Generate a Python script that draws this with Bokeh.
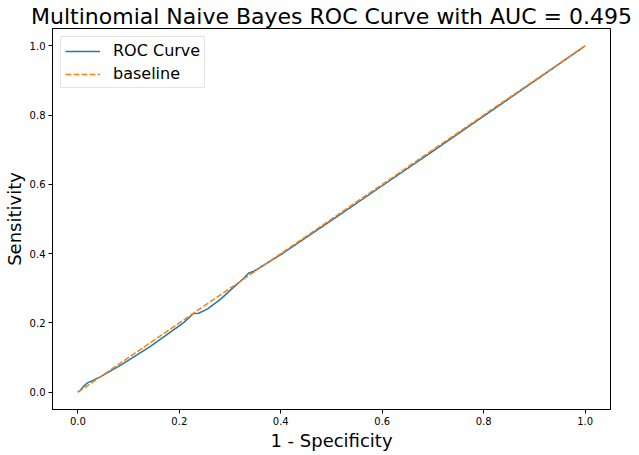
from bokeh.plotting import figure
from bokeh.models import FixedTicker, Range1d
from bokeh.embed import file_html
from bokeh.resources import INLINE

# ---- data ----
fpr = [0.0, 0.005, 0.012, 0.018, 0.030, 0.045, 0.087, 0.143, 0.208, 0.228, 0.238,
       0.255, 0.281, 0.304, 0.325, 0.337, 0.347, 0.400, 0.500, 0.600, 0.700, 0.800,
       0.900, 1.0]
tpr = [0.0, 0.006, 0.018, 0.026, 0.034, 0.045, 0.080, 0.132, 0.200, 0.227, 0.228,
       0.240, 0.268, 0.299, 0.326, 0.344, 0.349, 0.397, 0.496, 0.596, 0.696, 0.797,
       0.898, 1.0]
baseline_x = [0.0, 1.0]
baseline_y = [0.0, 1.0]
tick_values = [0.0, 0.2, 0.4, 0.6, 0.8, 1.0]
tick_labels = ["0.0", "0.2", "0.4", "0.6", "0.8", "1.0"]
title_text = "Multinomial Naive Bayes ROC Curve with AUC = 0.495"
x_label = "1 - Specificity"
y_label = "Sensitivity"

FONT = "DejaVu Sans"

p = figure(width=639, height=455, output_backend="svg", toolbar_location=None,
           title=title_text,
           x_range=Range1d(-0.05, 1.05), y_range=Range1d(-0.05, 1.05),
           min_border_left=52, min_border_right=29, min_border_top=28,
           min_border_bottom=46)
p.background_fill_color = "white"
p.border_fill_color = "white"
p.outline_line_color = "black"
p.outline_line_width = 1
p.outline_line_alpha = 1
p.grid.visible = False

p.title.text_font = FONT
p.title.text_font_size = "22px"
p.title.text_font_style = "normal"
p.title.text_color = "black"
p.title.align = "center"
p.title.standoff = 0
p.title.offset = 0

for ax in (p.xaxis[0], p.yaxis[0]):
    ax.ticker = FixedTicker(ticks=tick_values)
    ax.major_label_overrides = {v: l for v, l in zip(tick_values, tick_labels)}
    ax.major_tick_out = 4
    ax.major_tick_in = 0
    ax.minor_tick_out = 0
    ax.minor_tick_in = 0
    ax.major_label_standoff = 3
    ax.major_label_text_font = FONT
    ax.major_label_text_font_size = "10px"
    ax.major_label_text_color = "black"
    ax.axis_line_color = "black"
    ax.major_tick_line_color = "black"
    ax.axis_label_text_font = FONT
    ax.axis_label_text_font_size = "18px"
    ax.axis_label_text_font_style = "normal"
    ax.axis_label_text_color = "black"

p.xaxis[0].axis_label = x_label
p.xaxis[0].axis_label_standoff = 2
p.yaxis[0].axis_label = y_label
p.yaxis[0].axis_label_standoff = 2

p.line(fpr, tpr, line_color="#1f77b4", line_width=1.5, legend_label="ROC Curve")
p.line(baseline_x, baseline_y, line_color="#ff7f0e", line_width=1.5,
       line_dash="6 2", legend_label="baseline")

lg = p.legend[0]
lg.location = "top_left"
lg.margin = 8
lg.padding = 4
lg.spacing = 4
lg.label_height = 16
lg.glyph_height = 16
lg.glyph_width = 35
lg.label_standoff = 13
lg.label_text_font = FONT
lg.label_text_font_size = "16px"
lg.label_text_color = "black"
lg.border_line_color = "#cccccc"
lg.border_line_width = 1
lg.background_fill_color = "white"
lg.background_fill_alpha = 0.8

open("out.html", "w").write(file_html(p, INLINE))
